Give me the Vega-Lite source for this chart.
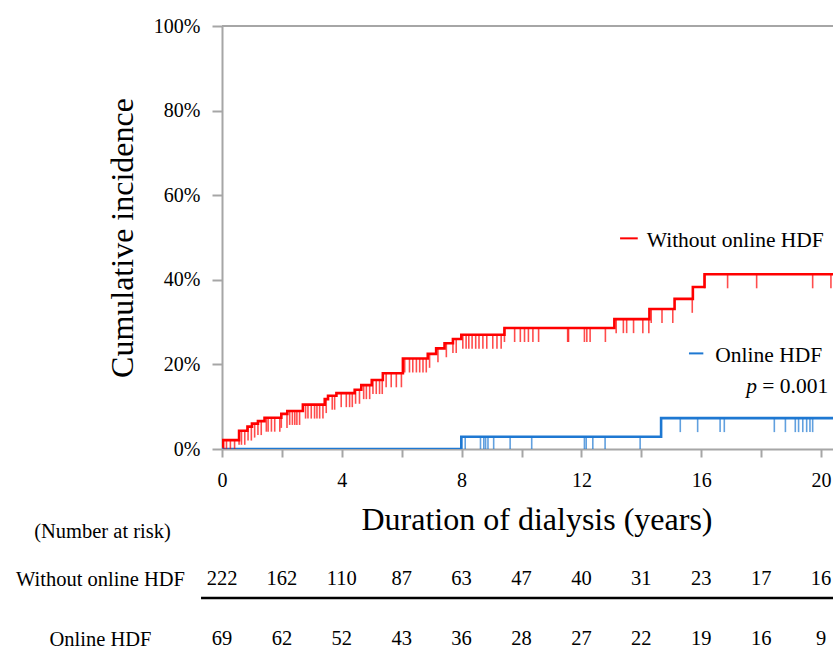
{
  "$schema": "https://vega.github.io/schema/vega-lite/v6.json",
  "padding": {"left": 15, "top": 16, "right": 0, "bottom": 0},
  "config": {
    "font": "Liberation Serif",
    "view": {"stroke": null},
    "axis": {"grid": false, "domainColor": "#A6A6A6", "tickColor": "#A6A6A6", "domainWidth": 2, "tickWidth": 2, "labelColor": "#000000", "titleColor": "#000000", "titleFontWeight": "normal"}
  },
  "datasets": {
    "curves": [
      {"group": "Without online HDF", "t": 0, "p": 0},
      {"group": "Without online HDF", "t": 0.02, "p": 0.021},
      {"group": "Without online HDF", "t": 0.57, "p": 0.043},
      {"group": "Without online HDF", "t": 0.85, "p": 0.053},
      {"group": "Without online HDF", "t": 1.0, "p": 0.06},
      {"group": "Without online HDF", "t": 1.2, "p": 0.066},
      {"group": "Without online HDF", "t": 1.42, "p": 0.074},
      {"group": "Without online HDF", "t": 1.98, "p": 0.083},
      {"group": "Without online HDF", "t": 2.18, "p": 0.09},
      {"group": "Without online HDF", "t": 2.7, "p": 0.105},
      {"group": "Without online HDF", "t": 3.43, "p": 0.118},
      {"group": "Without online HDF", "t": 3.54, "p": 0.126},
      {"group": "Without online HDF", "t": 3.82, "p": 0.132},
      {"group": "Without online HDF", "t": 4.43, "p": 0.14},
      {"group": "Without online HDF", "t": 4.65, "p": 0.151},
      {"group": "Without online HDF", "t": 5.0, "p": 0.163},
      {"group": "Without online HDF", "t": 5.37, "p": 0.179},
      {"group": "Without online HDF", "t": 6.04, "p": 0.214},
      {"group": "Without online HDF", "t": 6.87, "p": 0.225},
      {"group": "Without online HDF", "t": 7.15, "p": 0.238},
      {"group": "Without online HDF", "t": 7.43, "p": 0.25},
      {"group": "Without online HDF", "t": 7.71, "p": 0.26},
      {"group": "Without online HDF", "t": 7.99, "p": 0.27},
      {"group": "Without online HDF", "t": 9.43, "p": 0.286},
      {"group": "Without online HDF", "t": 13.1, "p": 0.307},
      {"group": "Without online HDF", "t": 14.27, "p": 0.331},
      {"group": "Without online HDF", "t": 15.11, "p": 0.355},
      {"group": "Without online HDF", "t": 15.72, "p": 0.383},
      {"group": "Without online HDF", "t": 16.11, "p": 0.413},
      {"group": "Without online HDF", "t": 21, "p": 0.413},
      {"group": "Online HDF", "t": 0, "p": 0},
      {"group": "Online HDF", "t": 7.99, "p": 0.029},
      {"group": "Online HDF", "t": 14.66, "p": 0.073},
      {"group": "Online HDF", "t": 21, "p": 0.073}
    ],
    "censored": [
      {"group": "Without online HDF", "t": 0.06, "p": 0.021},
      {"group": "Without online HDF", "t": 0.15, "p": 0.021},
      {"group": "Without online HDF", "t": 0.28, "p": 0.021},
      {"group": "Without online HDF", "t": 0.42, "p": 0.021},
      {"group": "Without online HDF", "t": 0.57, "p": 0.043},
      {"group": "Without online HDF", "t": 0.65, "p": 0.043},
      {"group": "Without online HDF", "t": 0.76, "p": 0.043},
      {"group": "Without online HDF", "t": 0.87, "p": 0.053},
      {"group": "Without online HDF", "t": 0.98, "p": 0.053},
      {"group": "Without online HDF", "t": 1.09, "p": 0.06},
      {"group": "Without online HDF", "t": 1.2, "p": 0.066},
      {"group": "Without online HDF", "t": 1.31, "p": 0.066},
      {"group": "Without online HDF", "t": 1.48, "p": 0.074},
      {"group": "Without online HDF", "t": 1.54, "p": 0.074},
      {"group": "Without online HDF", "t": 1.65, "p": 0.074},
      {"group": "Without online HDF", "t": 1.76, "p": 0.074},
      {"group": "Without online HDF", "t": 1.93, "p": 0.074},
      {"group": "Without online HDF", "t": 1.98, "p": 0.083},
      {"group": "Without online HDF", "t": 2.17, "p": 0.083},
      {"group": "Without online HDF", "t": 2.26, "p": 0.09},
      {"group": "Without online HDF", "t": 2.35, "p": 0.09},
      {"group": "Without online HDF", "t": 2.43, "p": 0.09},
      {"group": "Without online HDF", "t": 2.5, "p": 0.09},
      {"group": "Without online HDF", "t": 2.59, "p": 0.09},
      {"group": "Without online HDF", "t": 2.79, "p": 0.105},
      {"group": "Without online HDF", "t": 2.87, "p": 0.105},
      {"group": "Without online HDF", "t": 2.98, "p": 0.105},
      {"group": "Without online HDF", "t": 3.09, "p": 0.105},
      {"group": "Without online HDF", "t": 3.17, "p": 0.105},
      {"group": "Without online HDF", "t": 3.26, "p": 0.105},
      {"group": "Without online HDF", "t": 3.37, "p": 0.105},
      {"group": "Without online HDF", "t": 3.48, "p": 0.118},
      {"group": "Without online HDF", "t": 3.68, "p": 0.126},
      {"group": "Without online HDF", "t": 3.76, "p": 0.126},
      {"group": "Without online HDF", "t": 3.98, "p": 0.132},
      {"group": "Without online HDF", "t": 4.15, "p": 0.132},
      {"group": "Without online HDF", "t": 4.26, "p": 0.132},
      {"group": "Without online HDF", "t": 4.35, "p": 0.132},
      {"group": "Without online HDF", "t": 4.46, "p": 0.14},
      {"group": "Without online HDF", "t": 4.59, "p": 0.14},
      {"group": "Without online HDF", "t": 4.73, "p": 0.151},
      {"group": "Without online HDF", "t": 4.82, "p": 0.151},
      {"group": "Without online HDF", "t": 4.93, "p": 0.151},
      {"group": "Without online HDF", "t": 5.04, "p": 0.163},
      {"group": "Without online HDF", "t": 5.15, "p": 0.163},
      {"group": "Without online HDF", "t": 5.26, "p": 0.163},
      {"group": "Without online HDF", "t": 5.35, "p": 0.163},
      {"group": "Without online HDF", "t": 5.48, "p": 0.179},
      {"group": "Without online HDF", "t": 5.65, "p": 0.179},
      {"group": "Without online HDF", "t": 5.82, "p": 0.179},
      {"group": "Without online HDF", "t": 5.99, "p": 0.179},
      {"group": "Without online HDF", "t": 6.1, "p": 0.214},
      {"group": "Without online HDF", "t": 6.26, "p": 0.214},
      {"group": "Without online HDF", "t": 6.37, "p": 0.214},
      {"group": "Without online HDF", "t": 6.49, "p": 0.214},
      {"group": "Without online HDF", "t": 6.6, "p": 0.214},
      {"group": "Without online HDF", "t": 6.71, "p": 0.214},
      {"group": "Without online HDF", "t": 6.82, "p": 0.214},
      {"group": "Without online HDF", "t": 6.93, "p": 0.225},
      {"group": "Without online HDF", "t": 7.21, "p": 0.238},
      {"group": "Without online HDF", "t": 7.49, "p": 0.25},
      {"group": "Without online HDF", "t": 7.71, "p": 0.26},
      {"group": "Without online HDF", "t": 7.82, "p": 0.26},
      {"group": "Without online HDF", "t": 8.04, "p": 0.27},
      {"group": "Without online HDF", "t": 8.15, "p": 0.27},
      {"group": "Without online HDF", "t": 8.24, "p": 0.27},
      {"group": "Without online HDF", "t": 8.35, "p": 0.27},
      {"group": "Without online HDF", "t": 8.47, "p": 0.27},
      {"group": "Without online HDF", "t": 8.58, "p": 0.27},
      {"group": "Without online HDF", "t": 8.71, "p": 0.27},
      {"group": "Without online HDF", "t": 8.84, "p": 0.27},
      {"group": "Without online HDF", "t": 9.04, "p": 0.27},
      {"group": "Without online HDF", "t": 9.18, "p": 0.27},
      {"group": "Without online HDF", "t": 9.32, "p": 0.27},
      {"group": "Without online HDF", "t": 9.43, "p": 0.286},
      {"group": "Without online HDF", "t": 9.77, "p": 0.286},
      {"group": "Without online HDF", "t": 9.96, "p": 0.286},
      {"group": "Without online HDF", "t": 10.1, "p": 0.286},
      {"group": "Without online HDF", "t": 10.23, "p": 0.286},
      {"group": "Without online HDF", "t": 10.38, "p": 0.286},
      {"group": "Without online HDF", "t": 10.57, "p": 0.286},
      {"group": "Without online HDF", "t": 11.54, "p": 0.286},
      {"group": "Without online HDF", "t": 11.57, "p": 0.286},
      {"group": "Without online HDF", "t": 12.1, "p": 0.286},
      {"group": "Without online HDF", "t": 12.18, "p": 0.286},
      {"group": "Without online HDF", "t": 12.29, "p": 0.286},
      {"group": "Without online HDF", "t": 12.8, "p": 0.286},
      {"group": "Without online HDF", "t": 13.16, "p": 0.307},
      {"group": "Without online HDF", "t": 13.4, "p": 0.307},
      {"group": "Without online HDF", "t": 13.51, "p": 0.307},
      {"group": "Without online HDF", "t": 13.74, "p": 0.307},
      {"group": "Without online HDF", "t": 14.05, "p": 0.307},
      {"group": "Without online HDF", "t": 14.25, "p": 0.307},
      {"group": "Without online HDF", "t": 14.33, "p": 0.331},
      {"group": "Without online HDF", "t": 14.69, "p": 0.331},
      {"group": "Without online HDF", "t": 15.05, "p": 0.331},
      {"group": "Without online HDF", "t": 15.7, "p": 0.355},
      {"group": "Without online HDF", "t": 16.11, "p": 0.413},
      {"group": "Without online HDF", "t": 16.88, "p": 0.413},
      {"group": "Without online HDF", "t": 17.85, "p": 0.413},
      {"group": "Without online HDF", "t": 19.72, "p": 0.413},
      {"group": "Without online HDF", "t": 20.33, "p": 0.413},
      {"group": "Online HDF", "t": 7.99, "p": 0.029},
      {"group": "Online HDF", "t": 8.12, "p": 0.029},
      {"group": "Online HDF", "t": 8.63, "p": 0.029},
      {"group": "Online HDF", "t": 8.74, "p": 0.029},
      {"group": "Online HDF", "t": 8.8, "p": 0.029},
      {"group": "Online HDF", "t": 8.88, "p": 0.029},
      {"group": "Online HDF", "t": 9.07, "p": 0.029},
      {"group": "Online HDF", "t": 9.62, "p": 0.029},
      {"group": "Online HDF", "t": 10.34, "p": 0.029},
      {"group": "Online HDF", "t": 12.1, "p": 0.029},
      {"group": "Online HDF", "t": 12.16, "p": 0.029},
      {"group": "Online HDF", "t": 12.38, "p": 0.029},
      {"group": "Online HDF", "t": 12.79, "p": 0.029},
      {"group": "Online HDF", "t": 13.96, "p": 0.029},
      {"group": "Online HDF", "t": 14.66, "p": 0.073},
      {"group": "Online HDF", "t": 15.3, "p": 0.073},
      {"group": "Online HDF", "t": 15.88, "p": 0.073},
      {"group": "Online HDF", "t": 16.63, "p": 0.073},
      {"group": "Online HDF", "t": 16.77, "p": 0.073},
      {"group": "Online HDF", "t": 18.44, "p": 0.073},
      {"group": "Online HDF", "t": 18.81, "p": 0.073},
      {"group": "Online HDF", "t": 19.14, "p": 0.073},
      {"group": "Online HDF", "t": 19.25, "p": 0.073},
      {"group": "Online HDF", "t": 19.39, "p": 0.073},
      {"group": "Online HDF", "t": 19.52, "p": 0.073},
      {"group": "Online HDF", "t": 19.63, "p": 0.073},
      {"group": "Online HDF", "t": 19.72, "p": 0.073}
    ],
    "risk": [
      {"group": "Without online HDF", "t": 0, "n": 222},
      {"group": "Without online HDF", "t": 2, "n": 162},
      {"group": "Without online HDF", "t": 4, "n": 110},
      {"group": "Without online HDF", "t": 6, "n": 87},
      {"group": "Without online HDF", "t": 8, "n": 63},
      {"group": "Without online HDF", "t": 10, "n": 47},
      {"group": "Without online HDF", "t": 12, "n": 40},
      {"group": "Without online HDF", "t": 14, "n": 31},
      {"group": "Without online HDF", "t": 16, "n": 23},
      {"group": "Without online HDF", "t": 18, "n": 17},
      {"group": "Without online HDF", "t": 20, "n": 16},
      {"group": "Online HDF", "t": 0, "n": 69},
      {"group": "Online HDF", "t": 2, "n": 62},
      {"group": "Online HDF", "t": 4, "n": 52},
      {"group": "Online HDF", "t": 6, "n": 43},
      {"group": "Online HDF", "t": 8, "n": 36},
      {"group": "Online HDF", "t": 10, "n": 28},
      {"group": "Online HDF", "t": 12, "n": 27},
      {"group": "Online HDF", "t": 14, "n": 22},
      {"group": "Online HDF", "t": 16, "n": 19},
      {"group": "Online HDF", "t": 18, "n": 16},
      {"group": "Online HDF", "t": 20, "n": 9}
    ]
  },
  "width": 629,
  "height": 423,
  "resolve": {"scale": {"y": "independent"}, "axis": {"y": "independent"}},
  "layer": [
    {
      "layer": [
        {
          "data": {"name": "curves"},
          "mark": {"type": "line", "interpolate": "step-after", "strokeWidth": 2.6, "clip": true},
          "encoding": {
            "x": {"field": "t", "type": "quantitative", "scale": {"domain": [0, 21], "nice": false},
              "axis": {"values": [0, 2, 4, 6, 8, 10, 12, 14, 16, 18, 20], "labelExpr": "datum.value % 4 == 0 ? datum.label : ''", "labelFlush": false, "labelOverlap": false, "labelFontSize": 20, "tickSize": 8, "labelPadding": 13, "title": "Duration of dialysis (years)", "titleFontSize": 32, "titlePadding": 14}},
            "y": {"field": "p", "type": "quantitative", "scale": {"domain": [0, 1], "nice": false},
              "axis": {"values": [0, 0.2, 0.4, 0.6, 0.8, 1], "format": ".0%", "labelFontSize": 20, "tickSize": 10, "labelPadding": 12, "title": "Cumulative incidence", "titleFontSize": 32, "titlePadding": 14}},
            "color": {"field": "group", "type": "nominal", "scale": {"domain": ["Without online HDF", "Online HDF"], "range": ["#FF0000", "#1E78D2"]}, "legend": null},
            "order": {"field": "t", "type": "quantitative"},
            "detail": {"field": "group"}
          }
        },
        {
          "data": {"name": "censored"},
          "mark": {"type": "tick", "orient": "vertical", "size": 14, "thickness": 1.6, "yOffset": 7, "clip": true},
          "encoding": {
            "x": {"field": "t", "type": "quantitative"},
            "y": {"field": "p", "type": "quantitative"},
            "color": {"field": "group", "type": "nominal", "legend": null}
          }
        },
        {
          "data": {"values": [{"edge": 1}]},
          "mark": {"type": "rule", "color": "#A6A6A6", "strokeWidth": 2, "clip": false},
          "encoding": {"x": {"datum": 0}, "x2": {"datum": 21}, "y": {"field": "edge", "type": "quantitative"}}
        },
        {
          "data": {"values": [{"label": "Without online HDF"}]},
          "mark": {"type": "text", "align": "left", "baseline": "alphabetic", "fontSize": 21.5, "color": "#000000"},
          "encoding": {"x": {"datum": 14.18}, "y": {"datum": 0.478}, "text": {"field": "label"}}
        },
        {
          "data": {"values": [{"label": "Online HDF"}]},
          "mark": {"type": "text", "align": "left", "baseline": "alphabetic", "fontSize": 21.5, "color": "#000000"},
          "encoding": {"x": {"datum": 16.47}, "y": {"datum": 0.206}, "text": {"field": "label"}}
        },
        {
          "data": {"values": [{"label": "p"}]},
          "mark": {"type": "text", "align": "left", "baseline": "alphabetic", "fontSize": 21.5, "fontStyle": "italic", "color": "#000000"},
          "encoding": {"x": {"datum": 17.5}, "y": {"datum": 0.132}, "text": {"field": "label"}}
        },
        {
          "data": {"values": [{"label": "= 0.001"}]},
          "mark": {"type": "text", "align": "left", "baseline": "alphabetic", "fontSize": 21.5, "color": "#000000"},
          "encoding": {"x": {"datum": 18.04}, "y": {"datum": 0.132}, "text": {"field": "label"}}
        },
        {
          "data": {"values": [{"group": "Without online HDF"}]},
          "mark": {"type": "rule", "strokeWidth": 2},
          "encoding": {"x": {"datum": 13.29}, "x2": {"datum": 13.88}, "y": {"datum": 0.498}, "color": {"field": "group", "type": "nominal", "legend": null}}
        },
        {
          "data": {"values": [{"group": "Online HDF"}]},
          "mark": {"type": "rule", "strokeWidth": 2},
          "encoding": {"x": {"datum": 15.59}, "x2": {"datum": 16.07}, "y": {"datum": 0.226}, "color": {"field": "group", "type": "nominal", "legend": null}}
        }
      ]
    },
    {
      "layer": [
        {
          "data": {"name": "risk"},
          "mark": {"type": "text", "fontSize": 20.5, "color": "#000000", "baseline": "middle"},
          "encoding": {
            "x": {"field": "t", "type": "quantitative"},
            "y": {"field": "group", "type": "nominal", "scale": {"type": "point", "padding": 0, "domain": ["Without online HDF", "Online HDF"], "range": [553, 613]},
              "axis": {"orient": "left", "domain": false, "ticks": false, "tickSize": 0, "labelFontSize": 20.5, "labelAlign": "center", "labelPadding": 122, "title": "(Number at risk)", "titleAngle": 0, "titleFontSize": 20.5, "titleAlign": "center", "titleBaseline": "middle", "titleX": -120, "titleY": 505}},
            "text": {"field": "n", "type": "quantitative"}
          }
        },
        {
          "data": {"values": [{"group": "Without online HDF"}]},
          "mark": {"type": "rule", "color": "#000000", "strokeWidth": 2.5, "yOffset": 19, "clip": false},
          "encoding": {"x": {"datum": -0.7}, "x2": {"datum": 21}, "y": {"field": "group", "type": "nominal"}}
        }
      ]
    }
  ]
}
